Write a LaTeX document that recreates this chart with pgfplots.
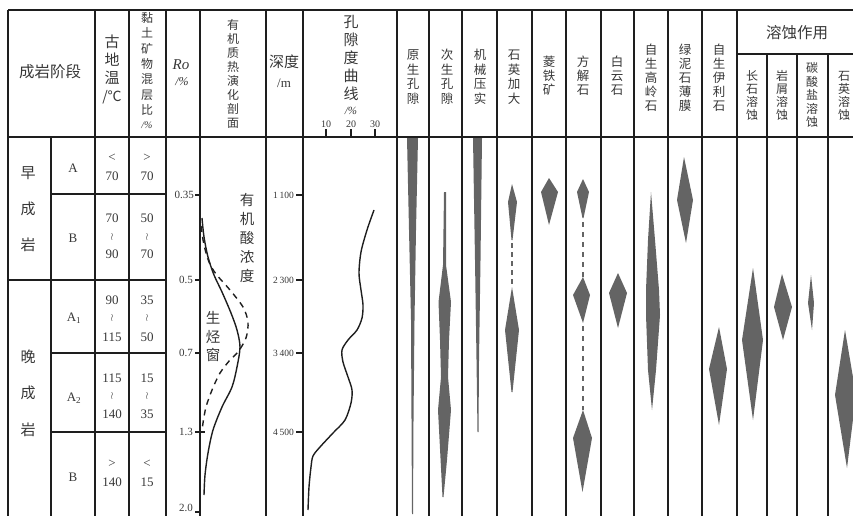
\documentclass[border=0pt]{standalone}
\usepackage{pgfplots}
\pgfplotsset{compat=1.18}
\usepackage{fontspec}
\setmainfont{Liberation Serif}
\newfontfamily\cjk{Noto Sans CJK SC}
\definecolor{fillg}{RGB}{100,100,100}
\definecolor{tc}{RGB}{55,55,55}
\definecolor{lc}{RGB}{30,30,30}
\newcommand{\tx}[4]{\node[font=\fontsize{#3}{#3}\selectfont, inner sep=0pt, text=tc] at (axis cs:#1,#2) {#4};}
\newcommand{\ct}[4]{\node[font=\cjk\fontsize{#3}{#3}\selectfont, inner sep=0pt, text=tc] at (axis cs:#1,#2) {#4};}
\newcommand{\itx}[4]{\node[font=\itshape\fontsize{#3}{#3}\selectfont, inner sep=0pt, text=tc] at (axis cs:#1,#2) {#4};}
\begin{document}
\begin{tikzpicture}
\begin{axis}[
 width=853pt, height=516pt, scale only axis,
 xmin=0, xmax=853, ymin=0, ymax=516, y dir=reverse,
 hide axis, clip=true,
]
\path (axis cs:0,0) rectangle (axis cs:853,516);
% ---------------- gray shapes ----------------
% 原生孔隙
\addplot[fill=fillg, draw=none] coordinates {(407,138) (418,138) (416,230) (414.5,320) (413.5,420) (413,514) (412,514) (411.5,420) (411,320) (409,230)} -- cycle;
% 次生孔隙
\addplot[fill=fillg, draw=none] coordinates {(444,192) (446,192) (446,265) (451,302) (449,340) (448,377) (451,410) (447,460) (443.5,497) (442.5,497) (438,410) (441,377) (440,340) (438.5,302) (443,265)} -- cycle;
% 机械压实
\addplot[fill=fillg, draw=none] coordinates {(473,138) (482,138) (480.5,260) (479,360) (478.5,432) (477.5,432) (476.5,360) (475,260)} -- cycle;
% 石英加大
\addplot[fill=fillg, draw=none] coordinates {(512,184) (517,202) (512.5,240) (511.5,240) (508,202)} -- cycle;
\addplot[fillg, line width=2.5pt, dash pattern=on 5pt off 4pt] coordinates {(512,243) (512,287)};
\addplot[fill=fillg, draw=none] coordinates {(512,287) (519,330) (512.5,392) (511.5,392) (505,330)} -- cycle;
% 菱铁矿
\addplot[fill=fillg, draw=none] coordinates {(549,178) (558,192) (549,225) (541,192)} -- cycle;
% 方解石
\addplot[fill=fillg, draw=none] coordinates {(583,179) (589,192) (583.5,218) (582.5,218) (577,192)} -- cycle;
\addplot[fillg, line width=2.5pt, dash pattern=on 5pt off 5pt] coordinates {(583,222) (583,277)};
\addplot[fill=fillg, draw=none] coordinates {(583,277) (590,295) (583,323) (573,295)} -- cycle;
\addplot[fillg, line width=2.5pt, dash pattern=on 5pt off 5pt] coordinates {(583,326) (583,410)};
\addplot[fill=fillg, draw=none] coordinates {(583,410) (592,438) (582.5,492) (573,438)} -- cycle;
% 白云石
\addplot[fill=fillg, draw=none] coordinates {(618,273) (627,293) (618,328) (609,293)} -- cycle;
% 自生高岭石
\addplot[fill=fillg, draw=none] coordinates {(651,192) (655,240) (659,290) (660,315) (656,370) (652,410) (648,370) (646,315) (646,290) (648,240)} -- cycle;
% 绿泥石薄膜
\addplot[fill=fillg, draw=none] coordinates {(684,157) (693,200) (686,243) (677,200)} -- cycle;
% 自生伊利石
\addplot[fill=fillg, draw=none] coordinates {(719,327) (727,369) (719,425) (709,369)} -- cycle;
% 长石溶蚀
\addplot[fill=fillg, draw=none] coordinates {(753,268) (763,340) (753,420) (742,340)} -- cycle;
% 岩屑溶蚀
\addplot[fill=fillg, draw=none] coordinates {(782,274) (792,307) (783,340) (774,307)} -- cycle;
% 碳酸盐溶蚀
\addplot[fill=fillg, draw=none] coordinates {(811,275) (814,303) (812,330) (808,303)} -- cycle;
% 石英溶蚀
\addplot[fill=fillg, draw=none] coordinates {(845,330) (856,395) (847,468) (835,395)} -- cycle;
% ---------------- curves ----------------
% porosity curve
\addplot[lc, line width=1.4pt, smooth] coordinates {(374,210) (367,230) (361,252) (359,273) (361,290) (363,305) (362,318) (357,330) (348,340) (342,350) (343,362) (348,377) (352,390) (351,403) (345,420) (333,433) (320,447) (313,456) (311,467) (309,487) (308,510)};
% organic: solid (hydrocarbon window)
\addplot[lc, line width=1.4pt, smooth] coordinates {(202,218) (204,237) (208,257) (214,275) (222,292) (231,313) (237,330) (240,347) (237,367) (232,387) (222,407) (213,430) (208,453) (205,475) (204,495)};
% organic: dashed (organic acid)
\addplot[lc, line width=1.4pt, smooth, dash pattern=on 6pt off 5pt] coordinates {(201,226) (204,245) (209,262) (216,274) (230,290) (243,307) (248,322) (246,338) (238,352) (230,360) (220,373) (212,390) (206,407) (203,423) (202,432)};
% ---------------- table lines ----------------
\draw[lc, line width=1.8pt] (axis cs:8,10) -- (axis cs:853,10);
\draw[lc, line width=1.5pt] (axis cs:8,137) -- (axis cs:853,137);
\draw[lc, line width=1.4pt] (axis cs:737,54) -- (axis cs:853,54);
\draw[lc, line width=1.4pt] (axis cs:51,194) -- (axis cs:166,194);
\draw[lc, line width=1.4pt] (axis cs:8,280) -- (axis cs:166,280);
\draw[lc, line width=1.4pt] (axis cs:51,353) -- (axis cs:166,353);
\draw[lc, line width=1.4pt] (axis cs:51,432) -- (axis cs:166,432);
\pgfplotsinvokeforeach{8,95,129,166,200,266,303,397,429,462,497,532,566,601,634,668,702,737}{
  \draw[lc, line width=1.4pt] (axis cs:#1,10) -- (axis cs:#1,516);
}
\pgfplotsinvokeforeach{767,797,828}{
  \draw[lc, line width=1.4pt] (axis cs:#1,54) -- (axis cs:#1,516);
}
\draw[lc, line width=1.4pt] (axis cs:51,137) -- (axis cs:51,516);
% Ro ticks
\pgfplotsinvokeforeach{195,280,353,432,512}{
  \draw[lc, line width=1.2pt] (axis cs:195,#1) -- (axis cs:200,#1);
}
\draw[lc, line width=1.2pt] (axis cs:200,432) -- (axis cs:205,432);
% depth ticks
\pgfplotsinvokeforeach{195,280,353,432}{
  \draw[lc, line width=1.2pt] (axis cs:296,#1) -- (axis cs:303,#1);
}
% porosity ticks
\pgfplotsinvokeforeach{326,351,375}{
  \draw[lc, line width=1.2pt] (axis cs:#1,129) -- (axis cs:#1,137);
}
% ---------------- header text ----------------
\ct{50}{72}{15.5}{成岩阶段}
% 古地温
\ct{112}{42}{15}{古}\ct{112}{60}{15}{地}\ct{112}{78}{15}{温}\ct{112}{97}{14}{/℃}
% 黏土矿物混层比
\ct{147}{18}{12}{黏}\ct{147}{33}{12}{土}\ct{147}{49}{12}{矿}\ct{147}{64}{12}{物}
\ct{147}{79}{12}{混}\ct{147}{95}{12}{层}\ct{147}{110}{12}{比}\itx{147}{125}{10}{/\%}
% Ro
\itx{181}{65}{15}{Ro}
\itx{182}{82}{12}{/\%}
% 有机质热演化剖面
\ct{233}{25}{12}{有}\ct{233}{39}{12}{机}\ct{233}{53}{12}{质}\ct{233}{67}{12}{热}
\ct{233}{81}{12}{演}\ct{233}{95}{12}{化}\ct{233}{109}{12}{剖}\ct{233}{123}{12}{面}
% 深度
\ct{284}{62}{15}{深度}
\tx{284}{83}{13}{/m}
% 孔隙度曲线
\ct{351}{22}{15}{孔}\ct{351}{40}{15}{隙}\ct{351}{58}{15}{度}\ct{351}{76}{15}{曲}\ct{351}{94}{15}{线}
\itx{351}{111}{11}{/\%}
\tx{326}{124}{10}{10}
\tx{351}{124}{10}{20}
\tx{375}{124}{10}{30}
% column headers
\ct{413}{55}{12.5}{原}\ct{413}{69.5}{12.5}{生}\ct{413}{84}{12.5}{孔}\ct{413}{98.5}{12.5}{隙}
\ct{447}{55}{12.5}{次}\ct{447}{69.5}{12.5}{生}\ct{447}{84}{12.5}{孔}\ct{447}{98.5}{12.5}{隙}
\ct{480}{55}{12.5}{机}\ct{480}{69.5}{12.5}{械}\ct{480}{84}{12.5}{压}\ct{480}{98.5}{12.5}{实}
\ct{514}{55}{12.5}{石}\ct{514}{69.5}{12.5}{英}\ct{514}{84}{12.5}{加}\ct{514}{98.5}{12.5}{大}
\ct{549}{62}{12.5}{菱}\ct{549}{76}{12.5}{铁}\ct{549}{90}{12.5}{矿}
\ct{583}{62}{12.5}{方}\ct{583}{76}{12.5}{解}\ct{583}{90}{12.5}{石}
\ct{617}{62}{12.5}{白}\ct{617}{76}{12.5}{云}\ct{617}{90}{12.5}{石}
\ct{651}{50}{12.5}{自}\ct{651}{64}{12.5}{生}\ct{651}{78}{12.5}{高}\ct{651}{92}{12.5}{岭}\ct{651}{106}{12.5}{石}
\ct{685}{50}{12.5}{绿}\ct{685}{64}{12.5}{泥}\ct{685}{78}{12.5}{石}\ct{685}{92}{12.5}{薄}\ct{685}{106}{12.5}{膜}
\ct{719}{50}{12.5}{自}\ct{719}{64}{12.5}{生}\ct{719}{78}{12.5}{伊}\ct{719}{92}{12.5}{利}\ct{719}{106}{12.5}{石}
\ct{797}{33}{15.5}{溶蚀作用}
\ct{752}{76}{12}{长}\ct{752}{89}{12}{石}\ct{752}{102}{12}{溶}\ct{752}{115}{12}{蚀}
\ct{782}{76}{12}{岩}\ct{782}{89}{12}{屑}\ct{782}{102}{12}{溶}\ct{782}{115}{12}{蚀}
\ct{812}{68}{12}{碳}\ct{812}{81.5}{12}{酸}\ct{812}{95}{12}{盐}\ct{812}{108.5}{12}{溶}\ct{812}{122}{12}{蚀}
\ct{844}{76}{12}{石}\ct{844}{89}{12}{英}\ct{844}{102}{12}{溶}\ct{844}{115}{12}{蚀}
% ---------------- body text ----------------
\ct{28}{173}{15}{早}
\ct{28}{209}{15}{成}
\ct{28}{245}{15}{岩}
\ct{28}{357}{15}{晚}
\ct{28}{393}{15}{成}
\ct{28}{430}{15}{岩}
\tx{73}{168}{13}{A}
\tx{73}{238}{13}{B}
\tx{74}{318}{13}{A\textsubscript{1}}
\tx{74}{398}{13}{A\textsubscript{2}}
\tx{73}{477}{13}{B}
% temperature
\tx{112}{158}{13}{<}
\tx{112}{176}{13}{70}
\tx{112}{218}{13}{70}
\tx{112}{237}{10}{$\wr$}
\tx{112}{254}{13}{90}
\tx{112}{300}{13}{90}
\tx{112}{318}{10}{$\wr$}
\tx{112}{337}{13}{115}
\tx{112}{378}{13}{115}
\tx{112}{396}{10}{$\wr$}
\tx{112}{414}{13}{140}
\tx{112}{464}{13}{>}
\tx{112}{482}{13}{140}
% clay
\tx{147}{158}{13}{>}
\tx{147}{176}{13}{70}
\tx{147}{218}{13}{50}
\tx{147}{237}{10}{$\wr$}
\tx{147}{254}{13}{70}
\tx{147}{300}{13}{35}
\tx{147}{318}{10}{$\wr$}
\tx{147}{337}{13}{50}
\tx{147}{378}{13}{15}
\tx{147}{396}{10}{$\wr$}
\tx{147}{414}{13}{35}
\tx{147}{464}{13}{<}
\tx{147}{482}{13}{15}
% Ro labels
\node[font=\fontsize{11}{11}\selectfont, inner sep=0pt, anchor=east, text=tc] at (axis cs:194,195) {0.35};
\node[font=\fontsize{11}{11}\selectfont, inner sep=0pt, anchor=east, text=tc] at (axis cs:193,280) {0.5};
\node[font=\fontsize{11}{11}\selectfont, inner sep=0pt, anchor=east, text=tc] at (axis cs:193,353) {0.7};
\node[font=\fontsize{11}{11}\selectfont, inner sep=0pt, anchor=east, text=tc] at (axis cs:193,432) {1.3};
\node[font=\fontsize{11}{11}\selectfont, inner sep=0pt, anchor=east, text=tc] at (axis cs:193,508) {2.0};
% depth labels
\node[font=\fontsize{9.5}{9.5}\selectfont, inner sep=0pt, anchor=east, text=tc] at (axis cs:294,195) {1\,100};
\node[font=\fontsize{9.5}{9.5}\selectfont, inner sep=0pt, anchor=east, text=tc] at (axis cs:294,280) {2\,300};
\node[font=\fontsize{9.5}{9.5}\selectfont, inner sep=0pt, anchor=east, text=tc] at (axis cs:294,353) {3\,400};
\node[font=\fontsize{9.5}{9.5}\selectfont, inner sep=0pt, anchor=east, text=tc] at (axis cs:294,432) {4\,500};
% organic text
\ct{247}{200}{14.5}{有}\ct{247}{219}{14.5}{机}\ct{247}{238}{14.5}{酸}\ct{247}{257}{14.5}{浓}\ct{247}{276}{14.5}{度}
\ct{213}{318}{14.5}{生}\ct{213}{337}{14.5}{烃}\ct{213}{355}{14.5}{窗}
\end{axis}
\end{tikzpicture}
\end{document}
